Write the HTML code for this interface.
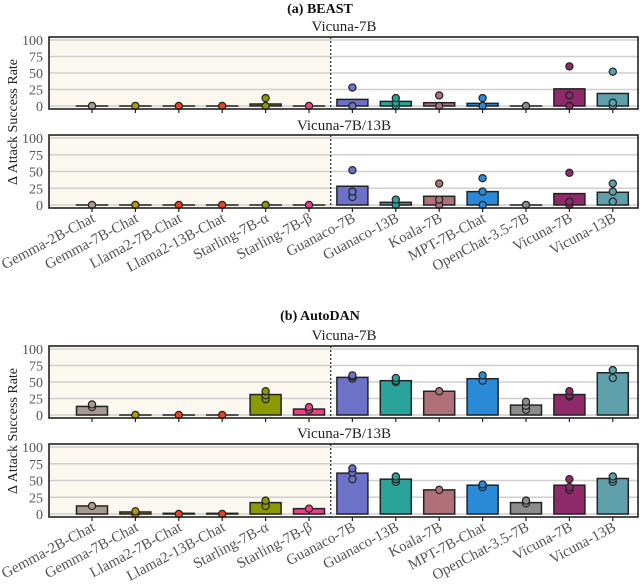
<!DOCTYPE html>
<html><head><meta charset="utf-8">
<style>body{margin:0;background:#fff}svg{display:block;font-family:"Liberation Serif",serif}</style>
</head><body>
<svg id="c" width="640" height="586" viewBox="0 0 640 586"></svg>
<script>
const categories=["Gemma-2B-Chat","Gemma-7B-Chat","Llama2-7B-Chat","Llama2-13B-Chat","Starling-7B-\u03b1","Starling-7B-\u03b2","Guanaco-7B","Guanaco-13B","Koala-7B","MPT-7B-Chat","OpenChat-3.5-7B","Vicuna-7B","Vicuna-13B"];
const colors=["#a89a8e","#b59a00","#e8431e","#e8431e","#8a9a00","#e8418a","#6b72c8","#2aa39a","#b07078","#2a8ad8","#8c8c8c","#8e2a6a","#5fa0ac"];
const yTicks=[0,25,50,75,100];
const beast7Bars=[0,0,0,0,3,0,10,7,5,4,0,26,19];
const beast7Dots=[[0],[0],[0],[0],[0,12],[0],[0,28],[0,5,12],[0,16],[0,12],[0],[0,16,60],[0,5,52]];
const beast13Bars=[0,0,0,0,0,0,28,4,13,20,0,17,19];
const beast13Dots=[[0],[0],[0],[0],[0],[0],[12,20,52],[0,8],[0,8,32],[0,20,40],[0],[0,5,48],[5,20,32]];
const auto7Bars=[13,0,0,0,31,9,57,52,36,55,15,31,64];
const auto7Dots=[[12,16],[0],[0],[0],[24,30,36],[8,12],[55,58,60],[50,52,56],[36],[52,60],[8,14,20],[28,30,36],[56,68]];
const auto13Bars=[12,3,1,1,17,8,61,52,36,43,17,43,53];
const auto13Dots=[[12],[0,4],[0],[0],[12,20],[8],[52,62,68],[48,52,56],[36],[40,44],[16,20],[36,40,52],[48,52,56]];

const svg=document.getElementById('c');
const NS="http://www.w3.org/2000/svg";
function mk(tag,attrs,parent){const e=document.createElementNS(NS,tag);for(const k in attrs)e.setAttribute(k,attrs[k]);(parent||svg).appendChild(e);return e;}
const X0=49,X1=639;
const band=43.4,firstC=92;
function xc(i){return firstC+i*band;}
const panels=[
 {top:37,bot:109,title:"Vicuna-7B",ty:31,bars:beast7Bars,dots:beast7Dots,labels:false,name:"beast-vicuna-7b"},
 {top:135,bot:208,title:"Vicuna-7B/13B",ty:130,bars:beast13Bars,dots:beast13Dots,labels:true,name:"beast-vicuna-7b-13b"},
 {top:346,bot:418,title:"Vicuna-7B",ty:340,bars:auto7Bars,dots:auto7Dots,labels:false,name:"autodan-vicuna-7b"},
 {top:444,bot:517,title:"Vicuna-7B/13B",ty:438,bars:auto13Bars,dots:auto13Dots,labels:true,name:"autodan-vicuna-7b-13b"}
];
let t=mk('text',{x:320,y:13,'text-anchor':'middle','font-size':14,'font-weight':'bold',fill:'#111'});t.textContent="(a) BEAST";

t=mk('text',{x:320,y:320,'text-anchor':'middle','font-size':14,'font-weight':'bold',fill:'#111'});t.textContent="(b) AutoDAN";

[[122,'beast'],[431,'autodan']].forEach(([cy,n])=>{
 const e=mk('text',{x:0,y:0,transform:`translate(17,${cy}) rotate(-90)`,'text-anchor':'middle','font-size':14,fill:'#222'});
 e.textContent="\u0394 Attack Success Rate";
 
 
});
panels.forEach(p=>{
 const g=mk('g',{});
 
 
 const y0=p.bot-3, y100=p.top+3;
 const y=v=>y0-(y0-y100)*v/100;
 const divX=xc(5.5);
 mk('rect',{x:X0,y:p.top,width:divX-X0,height:p.bot-p.top,fill:'#fcf8f0'},g);
 yTicks.forEach(v=>{
  mk('line',{x1:X0,x2:X1,y1:y(v),y2:y(v),stroke:'#cfcfcf','stroke-width':1.5},g);
  const tl=mk('text',{x:X0-6,y:y(v)+5,'text-anchor':'end','font-size':14,fill:'#555'},g);tl.textContent=v;
  
  
 });
 mk('line',{x1:divX,x2:divX,y1:p.top,y2:p.bot,stroke:'#222','stroke-width':1.2,'stroke-dasharray':'2,2'},g);
 const pt=mk('text',{x:344,y:p.ty,'text-anchor':'middle','font-size':15,fill:'#222'},g);pt.textContent=p.title;
 
 
 p.bars.forEach((v,i)=>{
  const bw=31, h=Math.max(y0-y(v),0.01);
  const r=mk('rect',{x:xc(i)-bw/2,y:y(v),width:bw,height:h,fill:colors[i],stroke:'#222','stroke-width':1.5},g);
  
  
  p.dots[i].forEach(d=>{
   const c=mk('circle',{cx:xc(i),cy:y(d),r:3.6,fill:colors[i],stroke:'#222','stroke-width':1.2},g);
   
   
  });
  mk('line',{x1:xc(i),x2:xc(i),y1:p.bot,y2:p.bot+4,stroke:'#222','stroke-width':1.2},g);
  if(p.labels){
   const lx=xc(i)+4, ly=p.bot+13;
   const l=mk('text',{x:0,y:0,transform:`translate(${lx},${ly}) rotate(-28)`,'text-anchor':'end','font-size':15,fill:'#555'},g);
   l.textContent=categories[i];
   
   
  }
 });
 mk('rect',{x:X0,y:p.top,width:X1-X0-1,height:p.bot-p.top,fill:'none',stroke:'#222','stroke-width':1.6},g);
});
</script>
</body></html>
